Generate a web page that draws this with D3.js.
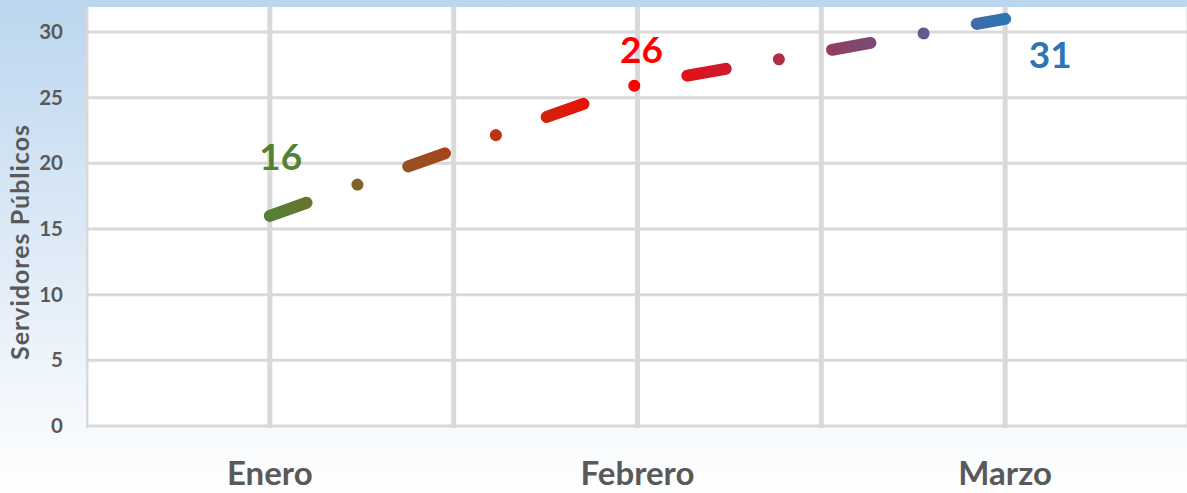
<!DOCTYPE html>
<html>
<head>
<meta charset="utf-8">
<script src="https://cdn.jsdelivr.net/npm/d3@7"></script>
<style>
  html, body { margin: 0; padding: 0; }
  body { width: 1187px; height: 493px; overflow: hidden; }
  text { font-family: Lato, "Open Sans", sans-serif; font-weight: bold; }
</style>
</head>
<body>
<div id="chart"></div>
<script>
const months = ["Enero", "Febrero", "Marzo"];
const servidores = [16, 26, 31];
const yTicks = [0, 5, 10, 15, 20, 25, 30];
const labelColors = ["#548235", "#ff0000", "#2e75b6"];

const width = 1187;
const height = 493;
const plot = { left: 86, right: 1189, top: 7, bottom: 426 };

const svg = d3.select("#chart")
    .append("svg")
    .attr("width", width)
    .attr("height", height);

const defs = svg.append("defs");

// background: light blue fading to white
const bg = defs.append("linearGradient")
    .attr("id", "bg")
    .attr("x1", 0).attr("y1", 0).attr("x2", 0).attr("y2", 1);
bg.append("stop").attr("offset", 0).attr("stop-color", "#bcd6ee");
bg.append("stop").attr("offset", 1).attr("stop-color", "#ffffff");

svg.append("rect")
    .attr("width", width)
    .attr("height", height)
    .attr("fill", "url(#bg)");

defs.append("clipPath")
    .attr("id", "plotClip")
    .append("rect")
    .attr("x", plot.left)
    .attr("y", plot.top)
    .attr("width", plot.right - plot.left)
    .attr("height", plot.bottom - plot.top + 4);

const x = d3.scalePoint()
    .domain(months)
    .range([plot.left, plot.right])
    .padding(0.5);

const y = d3.scaleLinear()
    .domain([0, 35])
    .range([plot.bottom, plot.bottom - 35 * 13.133]);

const g = svg.append("g").attr("clip-path", "url(#plotClip)");

// plot area
g.append("rect")
    .attr("x", plot.left)
    .attr("y", plot.top)
    .attr("width", plot.right - plot.left)
    .attr("height", plot.bottom - plot.top)
    .attr("fill", "white");

// horizontal gridlines
g.selectAll("line.hgrid")
    .data(yTicks)
    .enter()
    .append("line")
    .attr("class", "hgrid")
    .attr("x1", plot.left)
    .attr("x2", plot.right)
    .attr("y1", d => y(d))
    .attr("y2", d => y(d))
    .attr("stroke", "#d9d9d9")
    .attr("stroke-width", 3);

// vertical gridlines at category centres and band edges
const step = x.step();
const vLines = [];
months.forEach(m => {
    vLines.push(x(m) - step / 2);
    vLines.push(x(m));
});
vLines.push(x(months[months.length - 1]) + step / 2);

g.selectAll("line.vgrid")
    .data(vLines)
    .enter()
    .append("line")
    .attr("class", "vgrid")
    .attr("x1", d => d)
    .attr("x2", d => d)
    .attr("y1", plot.top)
    .attr("y2", plot.bottom + 2)
    .attr("stroke", "#d9d9d9")
    .attr("stroke-width", 5);

// y axis labels
const yAxis = svg.append("g")
    .attr("transform", `translate(${plot.left - 23},0)`)
    .call(d3.axisLeft(y).tickValues(yTicks).tickSize(0).tickPadding(0));
yAxis.select(".domain").remove();
yAxis.selectAll("text")
    .attr("font-size", "20.5px")
    .attr("font-family", "Lato, sans-serif")
    .attr("font-weight", "bold")
    .attr("fill", "#595959");

// y axis title
svg.append("text")
    .attr("transform", `translate(29,${(plot.top + plot.bottom) / 2 + 26}) rotate(-90)`)
    .attr("text-anchor", "middle")
    .attr("font-size", "25px")
    .attr("textLength", 235)
    .attr("lengthAdjust", "spacing")
    .attr("fill", "#595959")
    .text("Servidores Públicos");

// x axis labels
svg.selectAll("text.xlabel")
    .data(months)
    .enter()
    .append("text")
    .attr("class", "xlabel")
    .attr("x", d => x(d))
    .attr("y", 485)
    .attr("text-anchor", "middle")
    .attr("font-size", "33px")
    .attr("fill", "#595959")
    .text(d => d);

// gradient stroke: green -> red -> blue
const lineGrad = defs.append("linearGradient")
    .attr("id", "lineGrad")
    .attr("gradientUnits", "userSpaceOnUse")
    .attr("x1", x(months[0]))
    .attr("x2", x(months[months.length - 1]))
    .attr("y1", 0).attr("y2", 0);
labelColors.forEach((c, i) => {
    lineGrad.append("stop")
        .attr("offset", i / (labelColors.length - 1))
        .attr("stop-color", c);
});

const line = d3.line()
    .x((d, i) => x(months[i]))
    .y(d => y(d));

svg.append("path")
    .datum(servidores)
    .attr("d", line)
    .attr("fill", "none")
    .attr("stroke", "url(#lineGrad)")
    .attr("stroke-width", 12)
    .attr("stroke-linecap", "round")
    .attr("stroke-dasharray", "39 54 0.01 54");

// data labels (placed by hand in the original)
const labelOffsets = [[11, -46], [4, -22], [45, 49]];
svg.selectAll("text.dlabel")
    .data(servidores)
    .enter()
    .append("text")
    .attr("class", "dlabel")
    .attr("x", (d, i) => x(months[i]) + labelOffsets[i][0])
    .attr("y", (d, i) => y(d) + labelOffsets[i][1])
    .attr("text-anchor", "middle")
    .attr("font-size", "37px")
    .attr("font-weight", 900)
    .attr("fill", (d, i) => labelColors[i])
    .text(d => d);
</script>
</body>
</html>
